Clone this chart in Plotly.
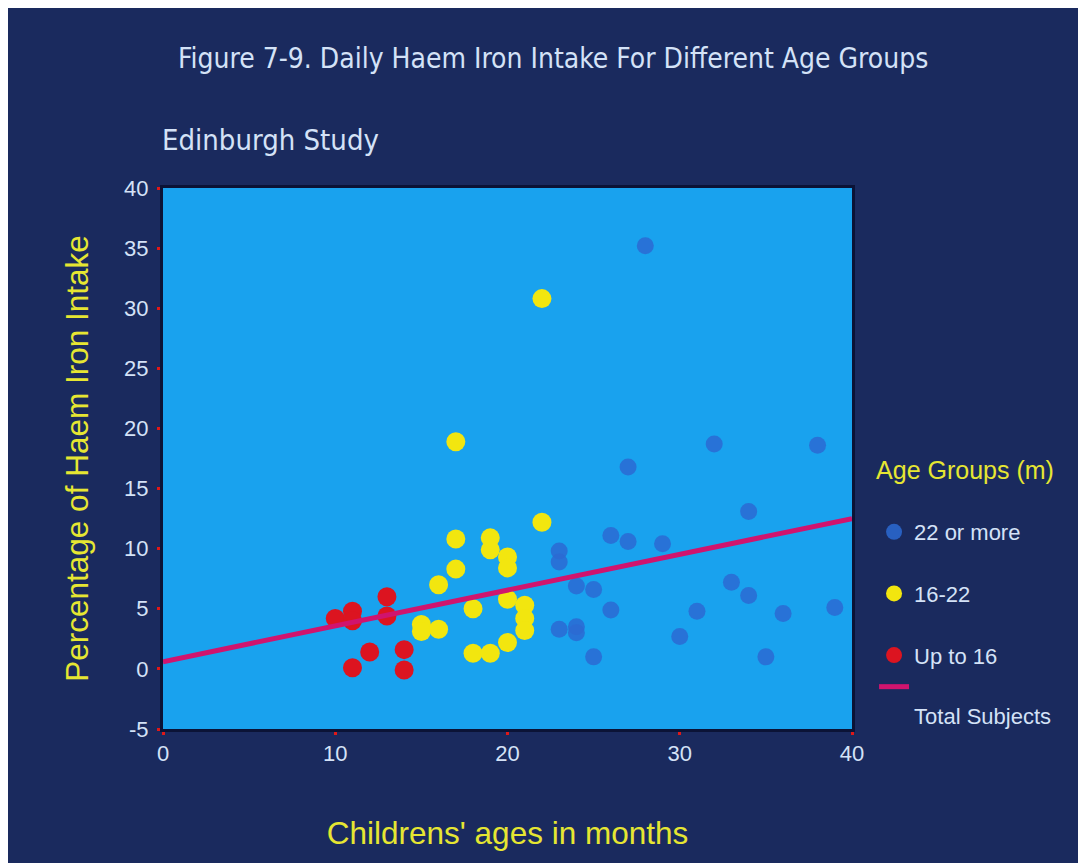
import plotly.graph_objects as go

# ---- data ----
up16_age = [10, 11, 11, 11, 12, 13, 13, 14, 14]
up16_pct = [4.2, 4.8, 4.0, 0.1, 1.4, 6.0, 4.4, 1.6, -0.1]

mid_age = [15, 15, 16, 16, 17, 17, 17, 18, 18, 19, 19, 19, 20, 20, 20, 20, 21, 21, 21, 22, 22]
mid_pct = [3.7, 3.1, 7.0, 3.3, 18.9, 10.8, 8.3, 5.0, 1.3, 10.9, 9.9, 1.3, 9.3, 8.4, 5.8, 2.2, 5.3, 4.2, 3.2, 12.2, 30.8]

old_age = [23, 23, 23, 24, 24, 24, 25, 25, 26, 26, 27, 27, 28, 29, 30, 31, 32, 33, 34, 34, 35, 36, 38, 39]
old_pct = [9.8, 8.9, 3.3, 6.9, 3.5, 3.0, 6.6, 1.0, 11.1, 4.9, 16.8, 10.6, 35.2, 10.4, 2.7, 4.8, 18.7, 7.2, 13.1, 6.1, 1.0, 4.6, 18.6, 5.1]

trend_age = [0, 40]
trend_pct = [0.6, 12.5]

x_ticks = [0, 10, 20, 30, 40]
y_ticks = [-5, 0, 5, 10, 15, 20, 25, 30, 35, 40]
y_tick_labels = ["-5", "0", "5", "10", "15", "20", "25", "30", "35", "40"]

NAVY = "#1a2a5e"
PLOT_BG = "#19a2ee"
TXT = "#d4e2f7"
YEL = "#e6e632"
NARROW = "Liberation Sans Narrow, Arial Narrow, DejaVu Sans Condensed, sans-serif"
SANS = "Liberation Sans, Arial, sans-serif"

fig = go.Figure()

fig.add_trace(go.Scatter(
    x=old_age, y=old_pct, mode="markers", name="22 or more",
    marker=dict(size=17, color="#2c6ad2", opacity=0.85, line=dict(width=0)),
    legendgroup="a", legendrank=1))
fig.add_trace(go.Scatter(
    x=mid_age, y=mid_pct, mode="markers", name="16-22",
    marker=dict(size=19, color="#f2e60f", line=dict(width=0)),
    legendgroup="b", legendrank=2))
fig.add_trace(go.Scatter(
    x=up16_age, y=up16_pct, mode="markers", name="Up to 16",
    marker=dict(size=19, color="#dc1420", line=dict(width=0)),
    legendgroup="c", legendrank=3))
fig.add_trace(go.Scatter(
    x=trend_age, y=trend_pct, mode="lines", name="&nbsp;<br>Total Subjects",
    line=dict(color="#d0146e", width=5),
    legendgroup="c", legendrank=4))

axis_common = dict(
    showgrid=False, zeroline=False,
    showline=True, linecolor="#0b1336", linewidth=3, mirror=True,
    ticks="outside", tickcolor="#e01818", ticklen=3, tickwidth=3,
    tickfont=dict(family=SANS, size=22, color=TXT),
)

fig.update_layout(
    width=1086, height=863,
    paper_bgcolor=NAVY, plot_bgcolor=PLOT_BG,
    margin=dict(l=155, r=242, t=180, b=142),
    title=dict(text="Figure 7-9. Daily Haem Iron Intake For Different Age Groups",
               x=0.502, y=0.942, xanchor="center", yanchor="middle",
               font=dict(family=NARROW, size=28, color=TXT)),
    xaxis=dict(range=[0, 40], tickvals=x_ticks, **axis_common,
               title=dict(text="Childrens' ages in months", standoff=57,
                          font=dict(family=SANS, size=31.5, color=YEL))),
    yaxis=dict(range=[-5, 40], tickvals=y_ticks, ticktext=y_tick_labels,
               ticklabelstandoff=4, **axis_common,
               title=dict(text="Percentage of Haem Iron Intake", standoff=27,
                          font=dict(family=SANS, size=31.5, color=YEL))),
    legend=dict(
        x=1.032, y=0.523, xanchor="left", yanchor="top",
        bgcolor="rgba(0,0,0,0)", traceorder="grouped", tracegroupgap=30,
        valign="top",
        title=dict(text="Age Groups (m)<br>&nbsp;", font=dict(family=SANS, size=25, color=YEL)),
        font=dict(family=SANS, size=22, color=TXT),
    ),
    annotations=[dict(text="Edinburgh Study", xref="paper", yref="paper",
                      x=-0.004, y=1.089, xanchor="left", yanchor="middle",
                      showarrow=False, font=dict(family=NARROW, size=29, color=TXT))],
)

fig.write_html("out.html")
